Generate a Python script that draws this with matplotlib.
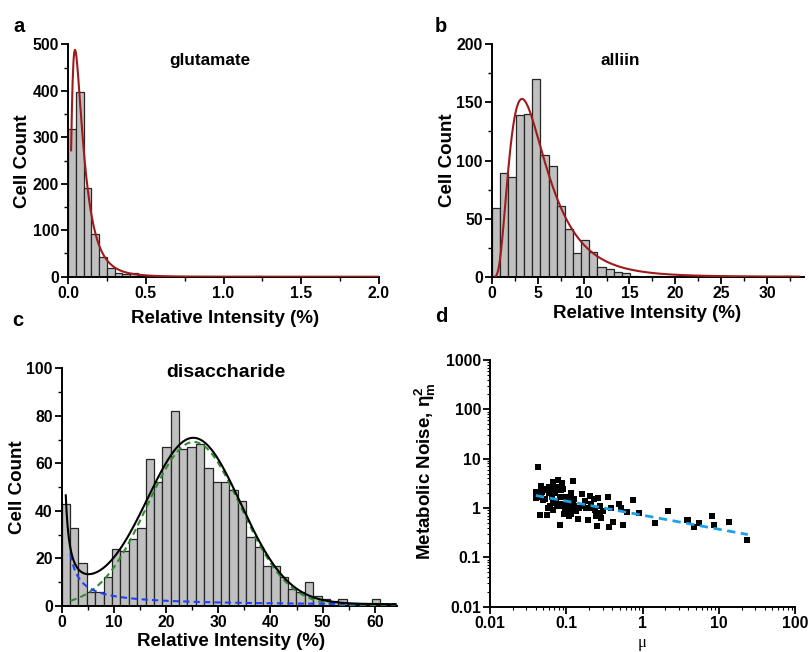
import numpy as np
import matplotlib
matplotlib.use("Agg")
import matplotlib.pyplot as plt
from matplotlib.ticker import MultipleLocator, FuncFormatter, LogLocator, NullFormatter

plt.rcParams['font.family'] = ['Liberation Sans', 'DejaVu Sans']
plt.rcParams['font.weight'] = 'bold'
plt.rcParams['axes.labelweight'] = 'bold'
plt.rcParams['mathtext.fontset'] = 'custom'
plt.rcParams['mathtext.rm'] = 'Liberation Sans'
plt.rcParams['mathtext.it'] = 'Liberation Sans:italic'
plt.rcParams['mathtext.bf'] = 'Liberation Sans:bold'

# ---------------- data ----------------
# panel a: glutamate histogram (bin width 0.05, from 0)
glu_bin_width = 0.05
glu_counts = [317, 397, 191, 92, 43, 19, 9, 6, 7, 3, 1, 1, 1, 0, 0, 0, 0, 0, 0, 0,
              0, 0, 0, 0, 2, 0, 0, 0, 0, 0, 0, 0, 0, 0, 0, 0, 0, 0, 0, 0]
glu_fit = dict(peak=488.0, mode=0.045, w=0.75, start=0.02, end=2.0)

# panel b: alliin histogram (bin width 0.885, from 0)
all_bin_width = 0.885
all_counts = [59, 89, 86, 139, 140, 170, 105, 95, 61, 41, 20, 32, 21, 8, 7, 4, 3, 1,
              0, 1, 1, 0, 0, 0, 0, 0, 0, 0, 0, 0, 0, 0, 0, 0, 0, 0, 1, 0]
all_fit = dict(peak=153.0, mode=3.3, w=0.6, start=0.4, end=33.5)

# panel c: disaccharide histogram (bin width 1.607, from 0)
dis_bin_width = 1.607
dis_counts = [43, 33, 18, 6, 6, 12, 24, 23, 28, 33, 62, 52, 67, 82, 66, 67, 68, 58, 52, 52,
              49, 44, 29, 25, 17, 17, 12, 7, 6, 10, 4, 3, 2, 3, 1, 1, 0, 3, 1, 0]
dis_gauss = dict(amp=69.0, center=25.3, sigma=9.0)
dis_decay = dict(amp=35.6, power=0.93)
dis_comp_start = 1.7
dis_total_start = 0.78
dis_end = 64.0

# panel d: metabolic noise vs mu
mu = [0.0428, 0.0403, 0.0403, 0.0449, 0.0473, 0.048, 0.046, 0.050, 0.0562, 0.059,
      0.060, 0.062, 0.065, 0.068, 0.070, 0.072, 0.074, 0.078, 0.082, 0.083,
      0.087, 0.090, 0.093, 0.095, 0.082, 0.100, 0.105, 0.108, 0.110, 0.117,
      0.122, 0.124, 0.117, 0.135, 0.144, 0.149, 0.162, 0.174, 0.183, 0.193,
      0.198, 0.207, 0.228, 0.235, 0.243, 0.255, 0.260, 0.274, 0.288, 0.300,
      0.350, 0.363, 0.390, 0.410, 0.490, 0.530, 0.560, 0.630, 0.750, 0.900,
      1.44, 2.13, 3.85, 4.0, 4.7, 5.5, 8.2, 8.7, 13.5, 23.6,
      0.0425, 0.050, 0.054, 0.052, 0.063, 0.078, 0.067, 0.076, 0.086, 0.098,
      0.102, 0.110, 0.128, 0.090, 0.108, 0.128, 0.165, 0.213, 0.274, 0.057,
      0.067, 0.122]
noise = [6.8, 2.15, 1.63, 0.71, 2.8, 2.15, 1.71, 1.47, 0.71, 2.71,
         1.99, 1.08, 1.71, 3.31, 2.51, 1.99, 1.36, 2.63, 1.71, 1.22,
         3.16, 2.4, 0.77, 0.95, 0.46, 1.2, 1.0, 1.58, 0.83, 2.0,
         1.26, 3.57, 0.74, 0.88, 0.6, 1.0, 1.93, 1.36, 0.98, 0.58,
         1.0, 1.77, 1.51, 0.93, 0.70, 0.43, 1.58, 0.79, 0.63, 0.86,
         1.71, 0.41, 1.0, 0.53, 1.22, 1.0, 0.45, 0.82, 1.47, 0.79,
         0.49, 0.86, 0.56, 0.57, 0.41, 0.5, 0.68, 0.46, 0.53, 0.225,
         1.71, 2.4, 2.33, 1.51, 2.33, 3.68, 1.26, 1.08, 2.33, 1.71,
         1.3, 1.08, 1.08, 1.08, 0.68, 1.51, 1.08, 1.22, 1.08, 1.0,
         0.93, 0.86]
fit_line_mu = [0.04, 24.0]
fit_line_noise = [1.79, 0.29]

# ---------------- styling ----------------
BAR_FACE = '#c0c0c0'
BAR_EDGE = '#262626'
RED = '#9e1b1b'
W, H = 809, 652

fig = plt.figure(figsize=(W / 100, H / 100), dpi=100)


def ax_at(l, t, r, b):
    return fig.add_axes([l / W, 1 - b / H, (r - l) / W, (b - t) / H])


def style(ax):
    for s in ('top', 'right'):
        ax.spines[s].set_visible(False)
    for s in ('left', 'bottom'):
        ax.spines[s].set_linewidth(1.4)
    ax.tick_params(which='major', direction='out', length=5, width=1.3, labelsize=11.3, pad=1.5)
    ax.tick_params(which='minor', direction='out', length=3, width=1.0)
    for lab in ax.get_xticklabels() + ax.get_yticklabels():
        lab.set_fontweight('bold')


def lognorm(x, peak, mode, w):
    xc = mode * np.exp(w ** 2)
    return peak * (mode / x) * np.exp(-(np.log(x / xc)) ** 2 / (2 * w ** 2) + w ** 2 / 2)


def hist(ax, counts, width):
    n = len(counts)
    left = np.arange(n) * width
    ax.bar(left, counts, width=width, align='edge', color=BAR_FACE,
           edgecolor=BAR_EDGE, linewidth=0.9, zorder=2)


# ---- panel a ----
axa = ax_at(68, 44.3, 379, 276.7)
hist(axa, glu_counts, glu_bin_width)
xa = np.linspace(glu_fit['start'], glu_fit['end'], 800)
axa.plot(xa, lognorm(xa, glu_fit['peak'], glu_fit['mode'], glu_fit['w']), color=RED, lw=1.5, zorder=3)
axa.set_xlim(0, 2.0)
axa.set_ylim(0, 500)
axa.xaxis.set_major_locator(MultipleLocator(0.5))
axa.xaxis.set_minor_locator(MultipleLocator(0.25))
axa.yaxis.set_major_locator(MultipleLocator(100))
axa.yaxis.set_minor_locator(MultipleLocator(50))
axa.xaxis.set_major_formatter(FuncFormatter(lambda v, p: f'{v:.1f}'))
style(axa)
axa.set_xlabel('Relative Intensity (%)', fontsize=13.5)
axa.set_ylabel('Cell Count', fontsize=13.5)
axa.xaxis.set_label_coords(0.505, -0.143)
axa.yaxis.set_label_coords(-0.12, 0.497)
axa.text(0.457, 0.932, 'glutamate', transform=axa.transAxes, ha='center', va='center',
         fontsize=12.3, fontweight='bold')

# ---- panel b ----
axb = ax_at(491.7, 44.3, 804, 276.7)
hist(axb, all_counts, all_bin_width)
xb = np.linspace(all_fit['start'], all_fit['end'], 800)
axb.plot(xb, lognorm(xb, all_fit['peak'], all_fit['mode'], all_fit['w']), color=RED, lw=1.5, zorder=3)
axb.set_xlim(0, 34)
axb.set_ylim(0, 200)
axb.xaxis.set_major_locator(MultipleLocator(5))
axb.xaxis.set_minor_locator(MultipleLocator(2.5))
axb.yaxis.set_major_locator(MultipleLocator(50))
axb.yaxis.set_minor_locator(MultipleLocator(25))
style(axb)
axb.set_xlabel('Relative Intensity (%)', fontsize=13.5)
axb.set_ylabel('Cell Count', fontsize=13.5)
axb.xaxis.set_label_coords(0.499, -0.122)
axb.yaxis.set_label_coords(-0.115, 0.5)
axb.text(0.412, 0.932, 'alliin', transform=axb.transAxes, ha='center', va='center',
         fontsize=12.3, fontweight='bold')

# ---- panel c ----
axc = ax_at(61.7, 368.3, 396.7, 606)
hist(axc, dis_counts, dis_bin_width)
xc_comp = np.linspace(dis_comp_start, dis_end, 800)
xc_tot = np.linspace(dis_total_start, dis_end, 800)
gauss = lambda x: dis_gauss['amp'] * np.exp(-(x - dis_gauss['center']) ** 2 / (2 * dis_gauss['sigma'] ** 2))
decay = lambda x: dis_decay['amp'] * x ** (-dis_decay['power'])
axc.plot(xc_comp, gauss(xc_comp), color='#2e8b2e', lw=1.5, ls=(0, (3, 2)), zorder=3)
axc.plot(xc_comp, decay(xc_comp), color='#2040ff', lw=1.5, ls=(0, (3, 2)), zorder=3)
axc.plot(xc_tot, gauss(xc_tot) + decay(xc_tot), color='black', lw=1.5, zorder=4)
axc.set_xlim(0, 64.2)
axc.set_ylim(0, 100)
axc.xaxis.set_major_locator(MultipleLocator(10))
axc.xaxis.set_minor_locator(MultipleLocator(5))
axc.yaxis.set_major_locator(MultipleLocator(20))
axc.yaxis.set_minor_locator(MultipleLocator(10))
style(axc)
axc.set_xlabel('Relative Intensity (%)', fontsize=13.5)
axc.set_ylabel('Cell Count', fontsize=13.5)
axc.xaxis.set_label_coords(0.506, -0.115)
axc.yaxis.set_label_coords(-0.108, 0.4985)
axc.text(0.49, 0.981, 'disaccharide', transform=axc.transAxes, ha='center', va='center',
         fontsize=14, fontweight='bold')

# ---- panel d ----
axd = ax_at(490, 360, 795, 606.7)
axd.set_xscale('log')
axd.set_yscale('log')
axd.scatter(mu, noise, marker='s', s=22, color='black', zorder=3, linewidths=0)
axd.plot(fit_line_mu, fit_line_noise, color='#1e9fe6', lw=2.0, ls=(0, (3, 2)), zorder=4)
axd.set_xlim(0.01, 100)
axd.set_ylim(0.01, 1000)
fmt = FuncFormatter(lambda v, p: f'{v:g}')
axd.xaxis.set_major_locator(LogLocator(base=10, numticks=10))
axd.yaxis.set_major_locator(LogLocator(base=10, numticks=10))
axd.xaxis.set_minor_locator(LogLocator(base=10, subs=np.arange(2, 10), numticks=20))
axd.yaxis.set_minor_locator(LogLocator(base=10, subs=np.arange(2, 10), numticks=20))
axd.xaxis.set_major_formatter(fmt)
axd.yaxis.set_major_formatter(fmt)
axd.xaxis.set_minor_formatter(NullFormatter())
axd.yaxis.set_minor_formatter(NullFormatter())
style(axd)
axd.tick_params(which='minor', length=2.5, width=0.8)
axd.set_ylabel(r'Metabolic Noise, $\mathrm{\eta_m^2}$', fontsize=13.5)
axd.yaxis.set_label_coords(-0.17, 0.55)
axd.set_xlabel('μ', fontsize=12, fontweight='normal', family=['Liberation Serif', 'DejaVu Serif'])
axd.xaxis.set_label_coords(0.498, -0.115)

# panel letters
for letter, (x, y) in {'a': (19, 26), 'b': (441, 27), 'c': (18, 320), 'd': (441, 316)}.items():
    fig.text(x / W, 1 - y / H, letter, ha='center', va='center', fontsize=14.5, fontweight='bold')

fig.savefig('out.png', dpi=100)
